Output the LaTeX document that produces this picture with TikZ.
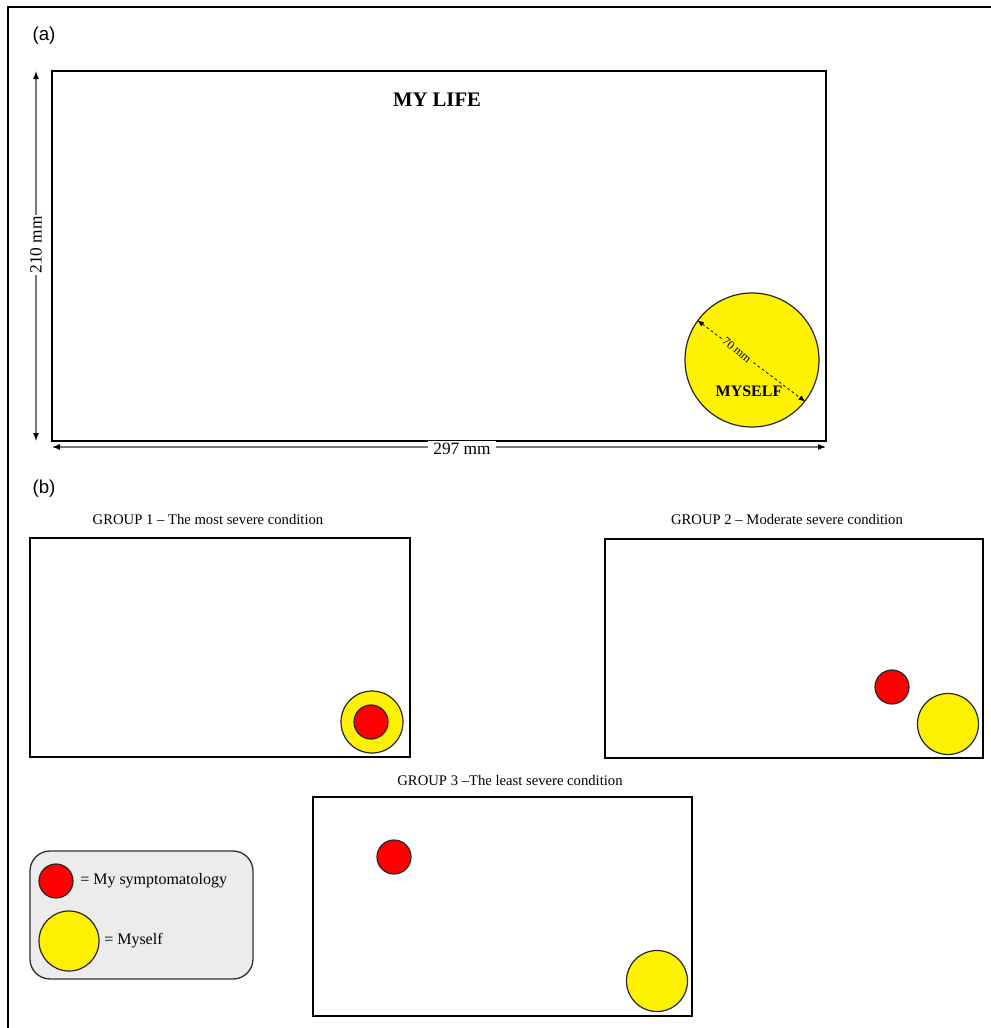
\documentclass[tikz,border=0pt]{standalone}
\usepackage{fontspec}
\setmainfont{Liberation Serif}
\newfontfamily\arialf{Liberation Sans}
\usetikzlibrary{arrows.meta}
\definecolor{legendgray}{RGB}{236,236,236}
\definecolor{dimgray}{RGB}{120,120,120}
\tikzset{
  frameline/.style={draw=black, line width=1.2pt},
  panelbox/.style={draw=black, line width=1.5pt},
  yellowdisc/.style={circle, draw=black!85, line width=0.9pt, fill=yellow, inner sep=0pt},
  reddisc/.style={circle, draw=black!85, line width=0.9pt, fill=red, inner sep=0pt, minimum size=25.5pt},
  dimarrow/.style={draw=dimgray, line width=0.8pt, {Latex[length=6pt,width=4.5pt,color=black]}-{Latex[length=6pt,width=4.5pt,color=black]}},
  grouptitle/.style={font=\fontsize{11}{13}\selectfont, inner sep=0pt},
  panellabel/.style={font=\arialf\fontsize{14}{16}\selectfont, inner sep=0pt},
}
\begin{document}
\begin{tikzpicture}[x=0.75pt,y=-0.75pt]
\useasboundingbox (0,0) rectangle (991,1028);
% outer frame (top and left)
\draw[frameline] (991,7) -- (8,7) -- (8,1028);
\node[panellabel] (la) at (44,36) {(a)};
\node[panellabel] (lb) at (44,489) {(b)};
% top panel
\draw[panelbox, line width=1.2pt] (52,71) rectangle (826,441);
\node[font=\bfseries\fontsize{15.5}{18}\selectfont] (mylife) at (437,100) {MY LIFE};
\node[yellowdisc, minimum size=100.5pt] (big) at (752,360) {};
\node[font=\bfseries\fontsize{12}{14}\selectfont] (myself) at (749,391) {MYSELF};
\draw[dashed, dash pattern=on 2pt off 2pt, line width=0.6pt, {Latex[length=5pt,width=4pt]}-{Latex[length=5pt,width=4pt]}] (big.144) -- (big.-38);
\node[font=\fontsize{9}{10}\selectfont, fill=yellow, inner sep=0.5pt, rotate=-40] (seventy) at (737,350) {70 mm};
% dimension arrows
\coordinate (vtop) at (36,71);
\coordinate (vbot) at (36,441);
\draw[dimarrow] (vtop) -- (vbot);
\node[font=\fontsize{13}{15}\selectfont, fill=white, inner sep=1pt, rotate=90] (h210) at (36,245) {210 mm};
\coordinate (hl) at (52,447);
\coordinate (hr) at (826,447);
\draw[dimarrow] (hl) -- (hr);
\node[font=\fontsize{13}{15}\selectfont, fill=white, inner xsep=4pt, inner ysep=2pt] (w297) at (462,449) {297 mm};
% group 1
\node[grouptitle] (g1t) at (208,519) {GROUP 1 -- The most severe condition};
\draw[panelbox] (30,538) rectangle (410,757);
\node[yellowdisc, minimum size=46.5pt] (g1y) at (372,722) {};
\node[reddisc] (g1r) at (371,722) {};
% group 2
\node[grouptitle] (g2t) at (787,519) {GROUP 2 -- Moderate severe condition};
\draw[panelbox] (605,539) rectangle (983,758);
\node[reddisc] (g2r) at (892,687) {};
\node[yellowdisc, minimum size=45.75pt] (g2y) at (948,724) {};
% group 3
\node[grouptitle] (g3t) at (510,780) {GROUP 3 --The least severe condition};
\draw[panelbox] (313,797) rectangle (692,1016);
\node[reddisc] (g3r) at (394,857) {};
\node[yellowdisc, minimum size=45.75pt] (g3y) at (657,981) {};
% legend
\draw[draw=black!80, line width=1pt, fill=legendgray, rounded corners=15pt] (30,851) rectangle (253,979);
\node[reddisc] (lr) at (56,881) {};
\node[font=\fontsize{12}{14}\selectfont, anchor=west, inner sep=0pt] (lrt) at (80,881) {= My symptomatology};
\node[yellowdisc, minimum size=45pt] (ly) at (69,941) {};
\node[font=\fontsize{12}{14}\selectfont, anchor=west, inner sep=0pt] (lyt) at (104,941) {= Myself};
\end{tikzpicture}
\end{document}
